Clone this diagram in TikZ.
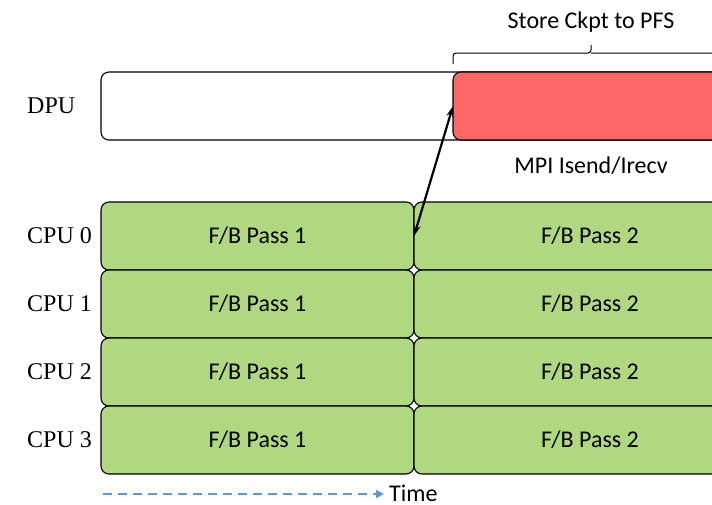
\documentclass[tikz,border=0pt]{standalone}
\usepackage{fontspec}
\setmainfont{Liberation Serif}
\newfontfamily\calibri{Carlito}
\usepackage{tikz}
\usetikzlibrary{positioning,arrows.meta}
\definecolor{passgreen}{RGB}{176,216,128}
\definecolor{ckptred}{RGB}{255,102,102}
\definecolor{timeblue}{RGB}{91,155,213}

\begin{document}
\begin{tikzpicture}[x=1pt, y=-1pt,
    lanenode/.style={rectangle, rounded corners=8pt, draw=black, line width=1.1pt, minimum height=68pt, inner sep=0pt, outer sep=0pt, font=\calibri\fontsize{24}{28}\selectfont},
    passnode/.style={lanenode, fill=passgreen},
    rowlabel/.style={inner sep=0pt, font=\fontsize{24}{28}\selectfont},
    notelabel/.style={inner sep=0pt, font=\calibri\fontsize{24}{28}\selectfont},
    bracket/.style={line width=1pt, rounded corners=3pt},
    ]
    \useasboundingbox (0,0) rectangle (712,504);
    \clip (0,0) rectangle (712,504);

    %Nodes
    \node[lanenode, fill=white, minimum width=665pt, anchor=north west]   (dpu)    at (101,72)  {};
    \node[lanenode, fill=ckptred, minimum width=276pt, anchor=north west] (ckpt)   at (453,72)  {};
    \node[passnode, minimum width=313pt, anchor=north west]               (pass1a) at (101,202) {F/B Pass 1};
    \node[passnode, minimum width=352pt]      (pass2a)      [right=0pt of pass1a] {F/B Pass 2};
    \node[passnode, minimum width=313pt]      (pass1b)      [below=0pt of pass1a] {F/B Pass 1};
    \node[passnode, minimum width=352pt]      (pass2b)      [right=0pt of pass1b] {F/B Pass 2};
    \node[passnode, minimum width=313pt]      (pass1c)      [below=0pt of pass1b] {F/B Pass 1};
    \node[passnode, minimum width=352pt]      (pass2c)      [right=0pt of pass1c] {F/B Pass 2};
    \node[passnode, minimum width=313pt]      (pass1d)      [below=0pt of pass1c] {F/B Pass 1};
    \node[passnode, minimum width=352pt]      (pass2d)      [right=0pt of pass1d] {F/B Pass 2};

    %Labels
    \node[rowlabel, anchor=west]  (dpulabel)  at ([xshift=-74pt]dpu.west)    {DPU};
    \node[rowlabel, anchor=west]  (cpu0)      at ([xshift=-74pt]pass1a.west) {CPU 0};
    \node[rowlabel, anchor=west]  (cpu1)      at ([xshift=-74pt]pass1b.west) {CPU 1};
    \node[rowlabel, anchor=west]  (cpu2)      at ([xshift=-74pt]pass1c.west) {CPU 2};
    \node[rowlabel, anchor=west]  (cpu3)      at ([xshift=-74pt]pass1d.west) {CPU 3};
    \coordinate (tick) at ([yshift=27pt]ckpt.north);
    \node[notelabel]              (store)     [above=12pt of tick]           {Store Ckpt to PFS};
    \node[notelabel]              (mpi)       [below=17pt of ckpt]           {MPI Isend/Irecv};
    \coordinate (tstart) at (103,494);
    \node[notelabel, anchor=west] (time)      at (389,493)                   {Time};

    %Lines
    \draw[bracket] ([yshift=8pt]ckpt.north west) |- ([yshift=19pt]ckpt.north) -- (tick);
    \draw[bracket] ([yshift=8pt]ckpt.north east) |- ([yshift=19pt]ckpt.north);
    \draw[{Stealth[length=11pt,width=7pt]}-{Stealth[length=11pt,width=7pt]}, line width=2.2pt] (pass1a.east) -- (ckpt.west);
    \draw[-{Triangle[length=8pt,width=8pt]}, timeblue, line width=2pt, dash pattern=on 9pt off 6pt, shorten >=5pt] (tstart) -- ([yshift=-1pt]time.west);
\end{tikzpicture}
\end{document}
